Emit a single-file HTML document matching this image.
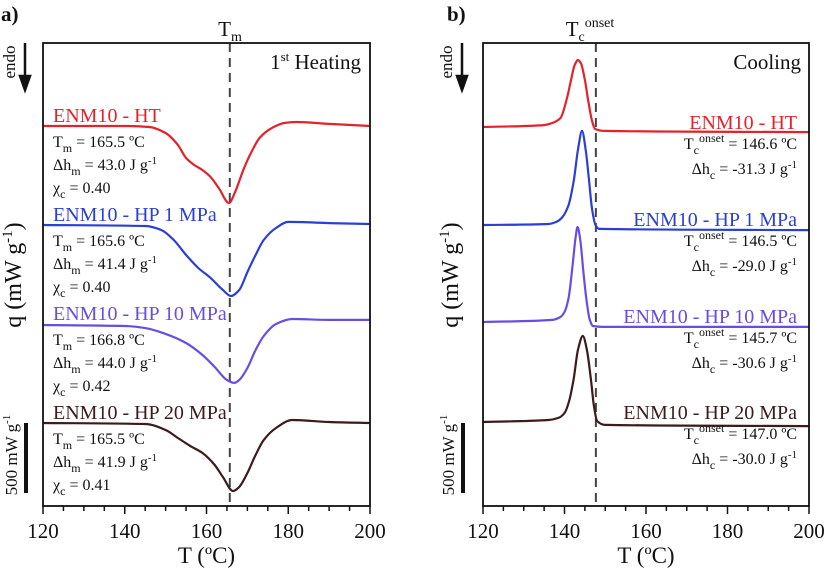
<!DOCTYPE html>
<html><head><meta charset="utf-8"><style>
body{margin:0;background:#fff}
svg text{font-family:"Liberation Serif",serif;fill:#111}
</style></head><body>
<svg id="fig" width="825" height="572" viewBox="0 0 825 572" xmlns="http://www.w3.org/2000/svg">
<g id="pa"></g>
<g id="pb"></g>
</svg>
<script>
// ---- data (T in °C, q in mW/g, stacked offsets) ----
const xTicks = [120, 140, 160, 180, 200];
const aHT_T = [120,140,146,150,153,155,157,159,161,163,165.5,167,169,171,173,176,179,182,190,200];
const aHT_q = [2714,2714,2707,2664,2579,2486,2436,2400,2350,2271,2164,2243,2400,2529,2629,2700,2736,2743,2729,2714];
const aHP1_T = [120,145,149,152,155,158,161,164,166,168,170,172,174,177,180,190,200];
const aHP1_q = [2007,2000,1971,1900,1793,1700,1629,1543,1500,1543,1671,1793,1900,1986,2029,2021,2014];
const aHP10_T = [120,140,145,150,155,159,162,165,166.8,168,170,172,174,177,181,190,200];
const aHP10_q = [1293,1286,1271,1229,1164,1079,993,900,879,900,986,1114,1214,1300,1336,1329,1329];
const aHP20_T = [120,145,150,153,156,159,162,164,166.5,168,170,172,174,177,181,190,200];
const aHP20_q = [593,586,543,486,429,379,293,207,107,136,236,364,471,557,614,600,593];
const bHT_T = [120,135,137,139,140.5,141.5,142.5,143.3,144,145,145.8,146.7,147.5,150,200];
const bHT_q = [2707,2721,2736,2771,2900,3029,3150,3186,3164,3043,2900,2757,2693,2679,2671];
const bHP1_T = [120,136,138,139.5,141,142.3,143.3,144.3,145.2,146,146.8,147.6,148.5,200];
const bHP1_q = [2007,2014,2029,2064,2150,2329,2543,2679,2543,2329,2114,2007,1979,1971];
const bHP10_T = [120,137,139,140,141,142,142.7,143.2,143.8,144.6,145.4,146.2,147,150,200];
const bHP10_q = [1314,1329,1350,1386,1486,1721,1914,1993,1914,1686,1471,1329,1286,1279,1279];
const bHP20_T = [120,136,138.5,140,141.2,142.2,143.3,144.5,145.5,146.5,147.2,148,150,200];
const bHP20_q = [600,614,629,664,757,900,1114,1214,1114,900,721,607,579,571];
const tmLine = 165.7, tcLine = 147.7;

const NS='http://www.w3.org/2000/svg';
function mk(p,tag,attrs,txt){const e=document.createElementNS(NS,tag);for(const k in attrs)e.setAttribute(k,attrs[k]);if(txt!==undefined)e.innerHTML=txt;p.appendChild(e);return e;}
const Y0=506,Y1=43,QMAX=(506-43)*500/70;
function scales(x0,x1){
  return {sx:t=>x0+(t-120)/80*(x1-x0), sy:q=>Y0-q/QMAX*(Y0-Y1)};
}
function monotone(pts){
  const n=pts.length,dx=[],m=[],t=[];
  for(let i=0;i<n-1;i++){dx[i]=pts[i+1][0]-pts[i][0];m[i]=(pts[i+1][1]-pts[i][1])/dx[i];}
  t[0]=m[0];t[n-1]=m[n-2];
  for(let i=1;i<n-1;i++){
    if(m[i-1]*m[i]<=0)t[i]=0;
    else{const w1=2*dx[i]+dx[i-1],w2=dx[i]+2*dx[i-1];t[i]=(w1+w2)/(w1/m[i-1]+w2/m[i]);}
  }
  let d='M'+pts[0][0].toFixed(1)+','+pts[0][1].toFixed(1);
  for(let i=0;i<n-1;i++){
    const h=dx[i]/3;
    d+=`C${(pts[i][0]+h).toFixed(1)},${(pts[i][1]+t[i]*h).toFixed(1)} ${(pts[i+1][0]-h).toFixed(1)},${(pts[i+1][1]-t[i+1]*h).toFixed(1)} ${pts[i+1][0].toFixed(1)},${pts[i+1][1].toFixed(1)}`;
  }
  return d;
}
function drawPanel(g,x0,x1,key,series,vline,letterX,sbX){
  const {sx,sy}=scales(x0,x1);
  const lt=mk(g,'text',{x:letterX,y:21,'font-size':21,'font-weight':'bold'},key+')');
  
  
  for(let t=120;t<=200;t+=5){
    const major=t%20===0;
    const tk=mk(g,'line',{x1:sx(t),x2:sx(t),y1:Y0,y2:Y0+(major?8:5),stroke:'#111','stroke-width':1.5});
    
    
  }
  xTicks.forEach(t=>{
    const tl=mk(g,'text',{x:sx(t),y:538,'font-size':21,'text-anchor':'middle'},t);
    
    
  });
  const xt=mk(g,'text',{x:(x0+x1)/2,y:563,'font-size':23,'text-anchor':'middle'},'T (ºC)');
  
  
  const vl=mk(g,'line',{x1:sx(vline),x2:sx(vline),y1:Y1,y2:Y0,stroke:'#444','stroke-width':2,'stroke-dasharray':'9,6'});
  
  
  series.forEach(s=>{
    const p=mk(g,'path',{d:monotone(s.T.map((t,i)=>[sx(t),sy(s.q[i])])),fill:'none',stroke:s.c,'stroke-width':2.2});
    
    
  });
  const fr=mk(g,'rect',{x:x0,y:Y1,width:x1-x0,height:Y0-Y1,fill:'none',stroke:'#111','stroke-width':1.8});
  
  
  const yt=mk(g,'text',{transform:`translate(${sbX-5},275) rotate(-90)`,'font-size':24,'text-anchor':'middle'},'q (mW g<tspan dy="-9" font-size="15">-1</tspan><tspan dy="9">)</tspan>');
  
  
  const en=mk(g,'text',{transform:`translate(${sbX-11},62) rotate(-90)`,'font-size':17,'text-anchor':'middle'},'endo');
  
  
  const ar=mk(g,'path',{d:`M${sbX-1},43 V80 M${sbX-6},76 L${sbX-1},90 L${sbX+4},76 Z`,stroke:'#111','stroke-width':2.5,fill:'#111'});
  
  
  const sb=mk(g,'line',{x1:sbX,x2:sbX,y1:423,y2:493,stroke:'#111','stroke-width':4});
  
  
  const st=mk(g,'text',{transform:`translate(${sbX-9},455) rotate(-90)`,'font-size':17,'text-anchor':'middle'},'500 mW g<tspan dy="-7" font-size="11">-1</tspan>');
  
  
}
const C={ht:'#e4222b',hp1:'#2b3fd4',hp10:'#6a4de0',hp20:'#3b1b1c'};
const ga=document.getElementById('pa'), gb=document.getElementById('pb');
drawPanel(ga,43,370,'a',[
 {T:aHT_T,q:aHT_q,c:C.ht,n:'curve-ht'},{T:aHP1_T,q:aHP1_q,c:C.hp1,n:'curve-hp-1mpa'},
 {T:aHP10_T,q:aHP10_q,c:C.hp10,n:'curve-hp-10mpa'},{T:aHP20_T,q:aHP20_q,c:C.hp20,n:'curve-hp-20mpa'}],tmLine,1,26);
drawPanel(gb,483,809,'b',[
 {T:bHT_T,q:bHT_q,c:C.ht,n:'curve-ht'},{T:bHP1_T,q:bHP1_q,c:C.hp1,n:'curve-hp-1mpa'},
 {T:bHP10_T,q:bHP10_q,c:C.hp10,n:'curve-hp-10mpa'},{T:bHP20_T,q:bHP20_q,c:C.hp20,n:'curve-hp-20mpa'}],tcLine,447,463);
function txt(g,x,y,s,html,opt){return mk(g,'text',Object.assign({x:x,y:y,'font-size':s},opt||{}),html);}
let e;
e=txt(ga,230,36,21,'T<tspan dy="5" font-size="14">m</tspan>',{'text-anchor':'middle'});


e=txt(gb,590,36,21,'T<tspan dy="5" font-size="14">c</tspan><tspan dy="-14" font-size="14">onset</tspan>',{'text-anchor':'middle'});


e=txt(ga,361,69,21,'1<tspan dy="-8" font-size="13">st</tspan><tspan dy="8"> Heating</tspan>',{'text-anchor':'end'});


e=txt(gb,801,69,21,'Cooling',{'text-anchor':'end'});


const aAnn=[[122,'ENM10 - HT',C.ht,'165.5','43.0','0.40'],[221,'ENM10 - HP 1 MPa',C.hp1,'165.6','41.4','0.40'],[320,'ENM10 - HP 10 MPa',C.hp10,'166.8','44.0','0.42'],[419,'ENM10 - HP 20 MPa',C.hp20,'165.5','41.9','0.41']];
aAnn.forEach(a=>{
  e=txt(ga,53,a[0],20,a[1],{style:'fill:'+a[2]});
  
  
  e=txt(ga,53,a[0]+25,16,'T<tspan dy="5" font-size="12">m</tspan><tspan dy="-5"> = '+a[3]+' ºC</tspan>');
  
  
  e=txt(ga,53,a[0]+48,16,'Δh<tspan dy="5" font-size="12">m</tspan><tspan dy="-5"> = '+a[4]+' J g</tspan><tspan dy="-6" font-size="11">-1</tspan>');
  
  
  e=txt(ga,53,a[0]+71,16,'χ<tspan dy="5" font-size="12">c</tspan><tspan dy="-5"> = '+a[5]+'</tspan>');
  
  
});
const bAnn=[[129,'ENM10 - HT',C.ht,'146.6','-31.3'],[226,'ENM10 - HP 1 MPa',C.hp1,'146.5','-29.0'],[323,'ENM10 - HP 10 MPa',C.hp10,'145.7','-30.6'],[419,'ENM10 - HP 20 MPa',C.hp20,'147.0','-30.0']];
bAnn.forEach(a=>{
  e=txt(gb,797,a[0],20,a[1],{'text-anchor':'end',style:'fill:'+a[2]});
  
  
  e=txt(gb,797,a[0]+20,16,'T<tspan dy="5" font-size="12">c</tspan><tspan dy="-12" font-size="12">onset</tspan><tspan dy="7"> = '+a[3]+' ºC</tspan>',{'text-anchor':'end'});
  
  
  e=txt(gb,797,a[0]+45,16,'Δh<tspan dy="5" font-size="12">c</tspan><tspan dy="-5"> = '+a[4]+' J g</tspan><tspan dy="-6" font-size="11">-1</tspan>',{'text-anchor':'end'});
  
  
});
</script>
</body></html>
